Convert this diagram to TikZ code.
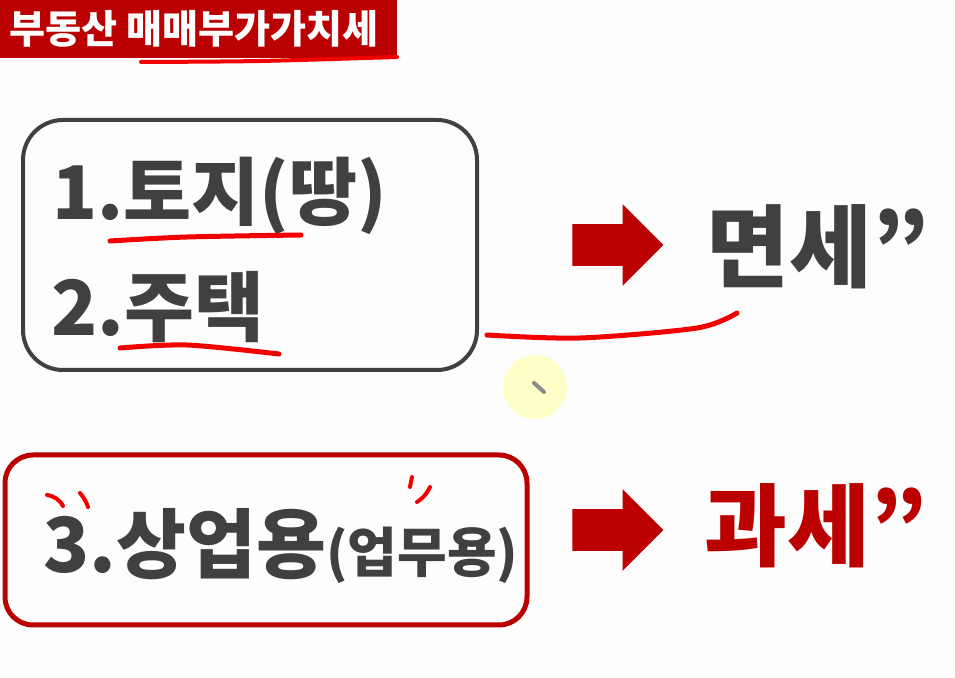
\documentclass[tikz,border=0pt]{standalone}
\usepackage{fontspec}
\usepackage{xcolor}
\usetikzlibrary{arrows.meta,positioning,shapes.arrows}
\newfontfamily\krfont{Noto Sans CJK KR}
\definecolor{paper}{HTML}{FDFDFD}
\definecolor{ink}{HTML}{404040}
\definecolor{banner}{HTML}{BA0000}
\definecolor{accentred}{HTML}{BB0000}
\definecolor{penred}{HTML}{F20000}
\definecolor{cursorbg}{HTML}{FFFFC8}
\definecolor{pencilgray}{HTML}{8A8A8A}
\tikzset{
  itembox/.style={draw=ink,line width=2pt,rounded corners=20pt,
                  inner sep=0pt},
  taxbox/.style={draw=accentred,line width=2.5pt,rounded corners=14pt,
                 inner sep=0pt},
  itemtext/.style={anchor=west,inner sep=0pt,text=ink,
                   font=\krfont\bfseries\fontsize{38pt}{40pt}\selectfont},
  resulttext/.style={anchor=west,inner sep=0pt,text=ink,
                     font=\krfont\bfseries\fontsize{45pt}{46pt}\selectfont},
  fatarrow/.style={single arrow,fill=accentred,draw=none,
                   inner xsep=0pt,inner ysep=10.25pt,
                   minimum height=45.5pt,
                   single arrow head extend=10pt},
  penline/.style={draw=penred,line width=2.5pt,line cap=round,line join=round}
}

\begin{document}
\begin{tikzpicture}[x=0.5pt,y=-0.5pt]
      \useasboundingbox (0,0) rectangle (955,678);
      \fill[paper] (0,0) rectangle (955,678);

      % title banner
      \fill[banner] (0,0) rectangle (397,58);
      \node[anchor=west,inner sep=0pt,text=white,
            font=\krfont\bfseries\fontsize{19.6pt}{21pt}\selectfont]
        (title) at (9,29) {부동산 매매부가가치세};
      \draw[penline,line width=2pt] plot[smooth] coordinates {(141,62) (260,61) (397,57)};

      % exempt group
      \node[itembox,minimum width=227pt,minimum height=125pt] (exemptbox) at (250,245) {};
      \node[itemtext,font=\krfont\bfseries\fontsize{37pt}{40pt}\selectfont]
        (land)  at (52,196) {1.토지(땅)};
      \node[itemtext] (house) at (51,307) {2.주택};
      \draw[penline] plot[smooth] coordinates {(110,241) (187,237) (301,235)};
      \draw[penline] plot[smooth] coordinates {(120,348) (187,345) (279,354)};

      \node[fatarrow] (arrowA) at (607.5,245) {};
      \node[resulttext] (exempt) at (706,247) {면세”};
      \draw[penline] plot[smooth] coordinates {(487,335) (580,338) (697,328) (737,313)};

      % pointer
      \fill[cursorbg] (535,387) circle (32);
      \draw[pencilgray,line width=2pt,line cap=round] (534,383) -- (544,392);

      % taxed group
      \node[taxbox,minimum width=261pt,minimum height=85pt] (taxbox) at (266,540) {};
      \node[itemtext] (commercial) at (43,546)
        {3.상업용{\fontsize{27pt}{30pt}\selectfont(업무용)}};
      \draw[penline,line width=2pt] (47,495) to[bend left=25] (63,506);
      \draw[penline,line width=2pt] (80,493) to[bend left=10] (88,507);
      \draw[penline,line width=2pt] (412,477) -- (410,487);
      \draw[penline,line width=2pt] (430,487) to[bend left=15] (417,502);

      \node[fatarrow] (arrowB) at (607.5,530) {};
      \node[resulttext,text=accentred] (taxed) at (704,526) {과세”};
    \end{tikzpicture}
\end{document}
